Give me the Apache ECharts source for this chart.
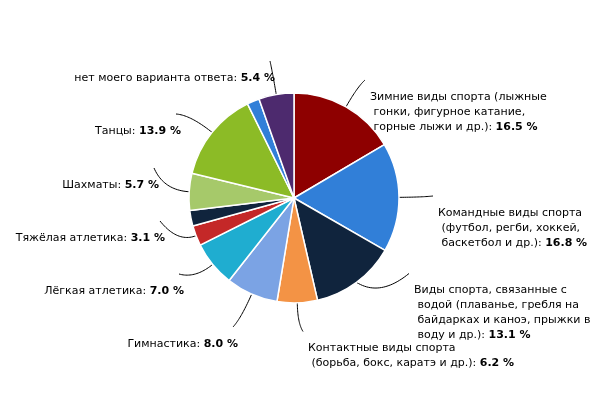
<!DOCTYPE html>
<html><head><meta charset="utf-8">
<script src="https://cdn.jsdelivr.net/npm/echarts@6/dist/echarts.min.js"></script>
<style>html,body{margin:0;padding:0;background:#fff}#c{width:600px;height:400px}</style>
</head><body><div id="c"></div>
<script>
const categories = [
  'Зимние виды спорта (лыжные\n гонки, фигурное катание,\n горные лыжи и др.)',
  'Командные виды спорта\n (футбол, регби, хоккей,\n баскетбол и др.)',
  'Виды спорта, связанные с\n водой (плаванье, гребля на\n байдарках и каноэ, прыжки в\n воду и др.)',
  'Контактные виды спорта\n (борьба, бокс, каратэ и др.)',
  'Гимнастика',
  'Лёгкая атлетика',
  'Тяжёлая атлетика',
  'Другое',
  'Шахматы',
  'Танцы',
  'Другое 2',
  'нет моего варианта ответа'
];
const values = [16.5, 16.8, 13.1, 6.2, 8.0, 7.0, 3.1, 2.4, 5.7, 13.9, 1.9, 5.4];
const colors = ['#8e0000','#317fd8','#10243d','#f39345','#7ba3e4','#1fadd0','#c42828','#10243d','#a6c96a','#8cbb26','#317fd8','#4d2a6e'];
const showLabel = [true,true,true,true,true,true,true,false,true,true,false,true];
// label placement (anchor x, vertical centre y, text alignment)
const labelPlace = [
  [370,112,'left'],[438,228,'left'],[414,313,'left'],[308,356,'left'],
  [238,344,'right'],[184,291,'right'],[165,238,'right'],null,
  [159,185,'right'],[181,131,'right'],null,[275,78,'right']
];

function guide(p, lp){
  const pts = p.labelLinePoints;
  if(!pts || pts.length < 2) return null;
  const s = pts[0], m = pts[1];
  let rx = m[0]-s[0], ry = m[1]-s[1];
  const rl = Math.hypot(rx, ry) || 1; rx/=rl; ry/=rl;
  const h = p.labelRect.height;
  const top = lp[1] - h/2;
  const ex = lp[0]-5;
  const ey = top - 9.5;
  const proj = Math.max(0, (ex-s[0])*rx + (ey-s[1])*ry);
  const cxp = s[0] + rx*proj*0.7, cyp = s[1] + ry*proj*0.7;
  const out = [];
  for(let i=0;i<=24;i++){
    const t=i/24, a=(1-t)*(1-t), b=2*(1-t)*t, c=t*t;
    out.push([a*s[0]+b*cxp+c*ex, a*s[1]+b*cyp+c*ey]);
  }
  return out;
}

const chart = echarts.init(document.getElementById('c'), null, {renderer:'canvas'});
chart.setOption({
  animation:false,
  series:[{
    type:'pie',
    center:['49%','49.5%'],
    radius:105,
    startAngle:90,
    clockwise:true,
    itemStyle:{borderColor:'#fff',borderWidth:1.5},
    label:{
      fontFamily:'DejaVu Sans', fontSize:11, color:'#000', lineHeight:15, overflow:'none',
      formatter:p=>p.name.split('\n').map((s,i,a)=> i===a.length-1 ? '{n|'+s+': }{v|'+p.value.toFixed(1)+' %}' : '{n|'+s+'}').join('\n'),
      rich:{n:{fontFamily:'DejaVu Sans',fontSize:11,color:'#000',lineHeight:15},v:{fontFamily:'DejaVu Sans',fontSize:11,fontWeight:'bold',color:'#000',lineHeight:15}}
    },
    labelLine:{show:true,smooth:false,length:18,length2:20,lineStyle:{color:'#000',width:1}},
    labelLayout:function(p){
      const lp = labelPlace[p.dataIndex];
      if(!lp) return {};
      const o = {x:lp[0], y:lp[1], align:lp[2], verticalAlign:'middle'};
      const g = guide(p, lp);
      if(g) o.labelLinePoints = g;
      return o;
    },
    data: values.map((v,i)=>({value:v,name:categories[i],itemStyle:{color:colors[i]},label:{show:showLabel[i]},labelLine:{show:showLabel[i]}}))
  }]
});
</script></body></html>
